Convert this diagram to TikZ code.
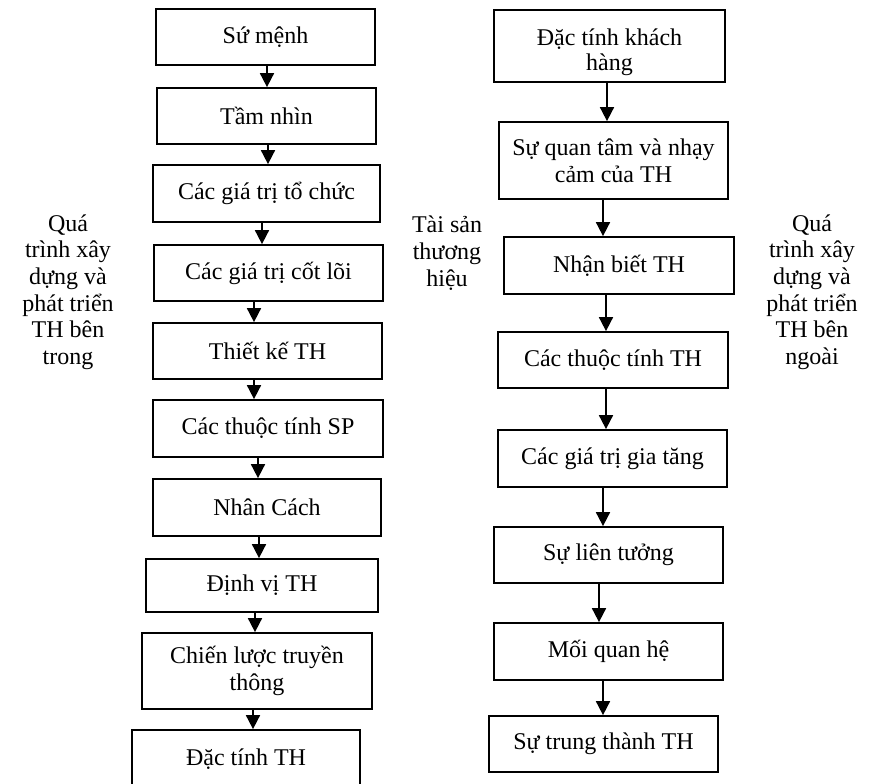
\documentclass[tikz,border=0pt]{standalone}
\usepackage{fontspec}
\setmainfont{Liberation Serif}
\usetikzlibrary{arrows.meta}
\begin{document}
\begin{tikzpicture}[x=0.75pt,y=-0.75pt,
  box/.style={draw, line width=1.3pt, align=center, inner sep=0pt, font=\fontsize{18}{20.5}\selectfont},
  dim/.style 2 args={minimum width=#1*0.75pt, minimum height=#2*0.75pt},
  lbl/.style={align=center, inner sep=0pt, font=\fontsize{18}{20}\selectfont},
  arr/.style={line width=1.3pt, -{Triangle[length=10.5pt,width=10.5pt]}}]
\useasboundingbox (0,0) rectangle (872,784);
\clip (0,0) rectangle (872,784);
% left column
\node[box, dim={219}{56}] (L1) at (265.5,37) {Sứ mệnh};
\node[box, dim={219}{56}] (L2) at (266.5,116) {Tầm nhìn};
\node[box, dim={227}{57}] (L3) at (266.5,193.5) {Các giá trị tổ chức};
\node[box, dim={229}{56}] (L4) at (268.5,273) {Các giá trị cốt lõi};
\node[box, dim={229}{56}] (L5) at (267.5,351) {Thiết kế TH};
\node[box, dim={230}{57}] (L6) at (268,428.5) {Các thuộc tính SP};
\node[box, dim={228}{57}] (L7) at (267,507.5) {Nhân Cách};
\node[box, dim={232}{53}] (L8) at (262,585.5) {Định vị TH};
\node[box, dim={230}{76}] (L9) at (257,671) {Chiến lược truyền\\thông};
\node[box, dim={228}{58}] (L10) at (246,759) {Đặc tính TH};
% right column
\node[box, dim={231}{72}] (R1) at (609.5,46) {};
\node[lbl, font=\fontsize{18}{19}\selectfont] (R1t) at (609.5,52) {Đặc tính khách\\hàng};
\node[box, dim={229}{77}] (R2) at (613.5,160.5) {Sự quan tâm và nhạy\\cảm của TH};
\node[box, dim={230}{57}] (R3) at (619,265.5) {Nhận biết TH};
\node[box, dim={230}{56}] (R4) at (613,360) {Các thuộc tính TH};
\node[box, dim={229}{57}] (R5) at (612.5,458.5) {Các giá trị gia tăng};
\node[box, dim={229}{56}] (R6) at (608.5,555) {Sự liên tưởng};
\node[box, dim={229}{57}] (R7) at (608.5,651.5) {Mối quan hệ};
\node[box, dim={229}{56}] (R8) at (603.5,744) {Sự trung thành TH};
% side labels
\node[lbl] (tl) at (68,292) {Quá\\trình xây\\dựng và\\phát triển\\TH bên\\trong};
\node[lbl] (tm) at (447,253) {Tài sản\\thương\\hiệu};
\node[lbl] (tr) at (812,292) {Quá\\trình xây\\dựng và\\phát triển\\TH bên\\ngoài};
% arrow x positions
\coordinate (a1) at (267,0);
\coordinate (a2) at (268,0);
\coordinate (a3) at (262,0);
\coordinate (a4) at (254,0);
\coordinate (a5) at (254,0);
\coordinate (a6) at (258,0);
\coordinate (a7) at (259,0);
\coordinate (a8) at (255,0);
\coordinate (a9) at (253,0);
\coordinate (b1) at (607,0);
\coordinate (b2) at (603,0);
\coordinate (b3) at (606,0);
\coordinate (b4) at (606,0);
\coordinate (b5) at (603,0);
\coordinate (b6) at (599,0);
\coordinate (b7) at (603,0);
\draw[arr] (L1.south -| a1) -- (L2.north -| a1);
\draw[arr] (L2.south -| a2) -- (L3.north -| a2);
\draw[arr] (L3.south -| a3) -- (L4.north -| a3);
\draw[arr] (L4.south -| a4) -- (L5.north -| a4);
\draw[arr] (L5.south -| a5) -- (L6.north -| a5);
\draw[arr] (L6.south -| a6) -- (L7.north -| a6);
\draw[arr] (L7.south -| a7) -- (L8.north -| a7);
\draw[arr] (L8.south -| a8) -- (L9.north -| a8);
\draw[arr] (L9.south -| a9) -- (L10.north -| a9);
\draw[arr] (R1.south -| b1) -- (R2.north -| b1);
\draw[arr] (R2.south -| b2) -- (R3.north -| b2);
\draw[arr] (R3.south -| b3) -- (R4.north -| b3);
\draw[arr] (R4.south -| b4) -- (R5.north -| b4);
\draw[arr] (R5.south -| b5) -- (R6.north -| b5);
\draw[arr] (R6.south -| b6) -- (R7.north -| b6);
\draw[arr] (R7.south -| b7) -- (R8.north -| b7);
\end{tikzpicture}
\end{document}
